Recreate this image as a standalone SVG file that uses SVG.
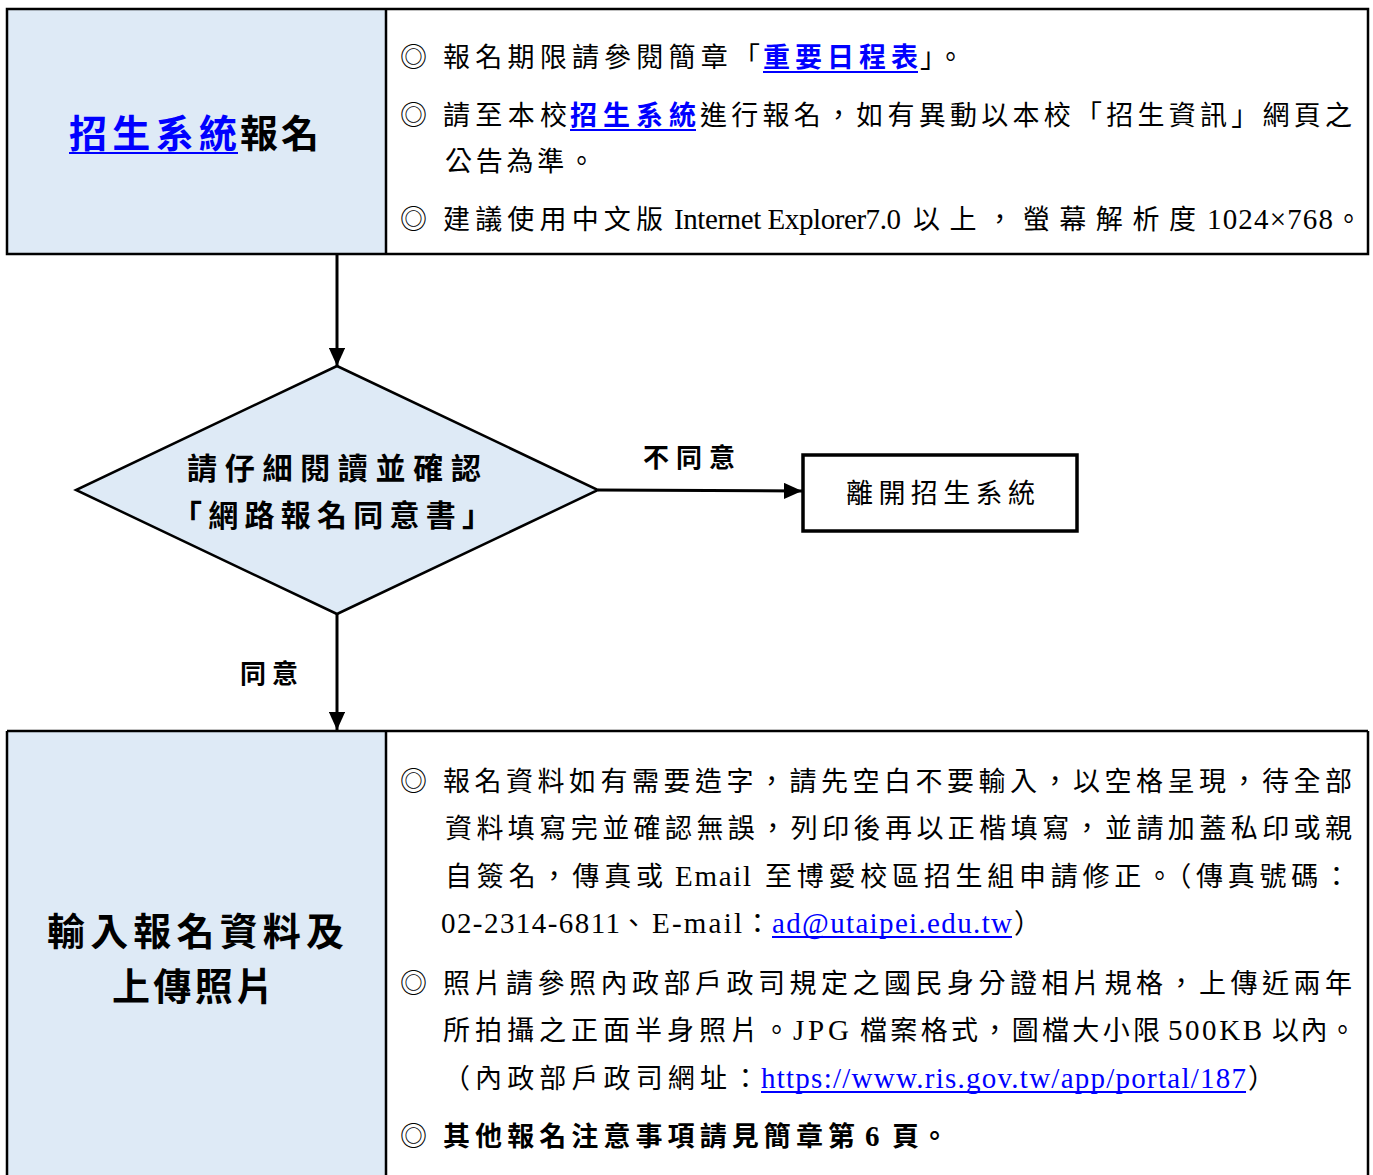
<svg xmlns="http://www.w3.org/2000/svg" width="1373" height="1175" viewBox="0 0 1373 1175">
<defs>
<style>
text{font-family:"Liberation Serif","Noto Sans CJK TC",serif;fill:#000}
.b{font-size:27px}
.bd{font-weight:bold}
.lk{fill:#0000ff}
.cell{fill:#deeaf6;stroke:none}
.ln{stroke:#000;stroke-width:2.5;fill:none}
.ul{stroke:#0000ff;stroke-width:2}
.lat{font-size:29px}
</style>
<marker id="ah" viewBox="0 0 10 9" refX="10" refY="4.5" markerWidth="6" markerHeight="5.4" orient="auto" markerUnits="strokeWidth">
<path d="M0,0 L10,4.5 L0,9 z" fill="#000"/>
</marker>
</defs>
<rect width="1373" height="1175" fill="#fff"/>

<g id="node-top">
<rect class="cell" x="7" y="9" width="379" height="245"/>
<rect class="ln" x="7" y="9" width="1361" height="245"/>
<line class="ln" x1="386" y1="9" x2="386" y2="254"/>
<text class="bd lk" x="69" y="147" font-size="38" textLength="168" lengthAdjust="spacing">招生系統</text>
<line class="ul" x1="69" y1="153" x2="238" y2="153"/>
<text class="bd" x="240" y="147" font-size="38" textLength="79" lengthAdjust="spacing">報名</text>

<text class="b" x="400" y="67">◎</text>
<text class="b" x="443" y="67" textLength="317" lengthAdjust="spacing">報名期限請參閱簡章「</text>
<text class="b bd lk" x="763" y="67" textLength="155" lengthAdjust="spacing">重要日程表</text>
<line class="ul" x1="763" y1="72" x2="918" y2="72"/>
<text class="b" x="920" y="67" textLength="44" lengthAdjust="spacing">」。</text>

<text class="b" x="400" y="125">◎</text>
<text class="b" x="443" y="125" textLength="124" lengthAdjust="spacing">請至本校</text>
<text class="b bd lk" x="570" y="125" textLength="126" lengthAdjust="spacing">招生系統</text>
<line class="ul" x1="570" y1="130" x2="696" y2="130"/>
<text class="b" x="700" y="125" textLength="652" lengthAdjust="spacing">進行報名，如有異動以本校「招生資訊」網頁之</text>
<text class="b" x="445" y="171" textLength="150" lengthAdjust="spacing">公告為準。</text>

<text class="b" x="400" y="229">◎</text>
<text class="b" x="443" y="229" textLength="220" lengthAdjust="spacing">建議使用中文版</text>
<text class="lat" x="674" y="229" textLength="227" lengthAdjust="spacing">Internet Explorer7.0</text>
<text class="b" x="913" y="229" textLength="283" lengthAdjust="spacing">以上，螢幕解析度</text>
<text class="lat" x="1207" y="229" textLength="126" lengthAdjust="spacing">1024×768</text>
<text class="b" x="1335" y="229">。</text>
</g>

<g id="node-decision">
<polygon points="337,366 598,490 337,614 76,490" fill="#deeaf6" stroke="#000" stroke-width="2.5"/>
<text class="bd" x="187" y="479" font-size="30" textLength="294" lengthAdjust="spacing">請仔細閱讀並確認</text>
<text class="bd" x="172" y="526" font-size="30" textLength="320" lengthAdjust="spacing">「網路報名同意書」</text>
</g>

<g id="node-exit">
<rect x="803" y="455" width="274" height="76" fill="#fff" stroke="#000" stroke-width="3.5"/>
<text x="846" y="503" font-size="27" textLength="189" lengthAdjust="spacing">離開招生系統</text>
</g>

<g id="node-bottom">
<rect class="cell" x="7" y="731" width="379" height="450"/>
<line class="ln" x1="7" y1="731" x2="1368" y2="731"/>
<line class="ln" x1="7" y1="731" x2="7" y2="1180"/>
<line class="ln" x1="386" y1="731" x2="386" y2="1180"/>
<line class="ln" x1="1368" y1="731" x2="1368" y2="1180"/>
<text class="bd" x="47" y="945" font-size="38" textLength="297" lengthAdjust="spacing">輸入報名資料及</text>
<text class="bd" x="112" y="1000" font-size="38" textLength="162" lengthAdjust="spacing">上傳照片</text>

<text class="b" x="400" y="791">◎</text>
<text class="b" x="443" y="791" textLength="909" lengthAdjust="spacing">報名資料如有需要造字，請先空白不要輸入，以空格呈現，待全部</text>
<text class="b" x="445" y="838" textLength="907" lengthAdjust="spacing">資料填寫完並確認無誤，列印後再以正楷填寫，並請加蓋私印或親</text>
<text class="b" x="445" y="886" textLength="218" lengthAdjust="spacing">自簽名，傳真或</text>
<text class="lat" x="675" y="886" textLength="76" lengthAdjust="spacing">Email</text>
<text class="b" x="765" y="886" textLength="585" lengthAdjust="spacing">至博愛校區招生組申請修正。（傳真號碼：</text>
<text class="lat" x="441" y="933" textLength="179" lengthAdjust="spacing">02-2314-6811</text>
<text class="b" x="620" y="933">、</text>
<text class="lat" x="652" y="933" textLength="90" lengthAdjust="spacing">E-mail</text>
<text class="b" x="744" y="933">：</text>
<text class="lat lk" x="772" y="933" textLength="240" lengthAdjust="spacing">ad@utaipei.edu.tw</text>
<line class="ul" x1="772" y1="937" x2="1012" y2="937"/>
<text class="b" x="1014" y="933">）</text>

<text class="b" x="400" y="993">◎</text>
<text class="b" x="443" y="993" textLength="909" lengthAdjust="spacing">照片請參照內政部戶政司規定之國民身分證相片規格，上傳近兩年</text>
<text class="b" x="443" y="1040" textLength="347" lengthAdjust="spacing">所拍攝之正面半身照片。</text>
<text class="lat" x="793" y="1040" textLength="56" lengthAdjust="spacing">JPG</text>
<text class="b" x="860" y="1040" textLength="300" lengthAdjust="spacing">檔案格式，圖檔大小限</text>
<text class="lat" x="1168" y="1040" textLength="94" lengthAdjust="spacing">500KB</text>
<text class="b" x="1272" y="1040" textLength="84" lengthAdjust="spacing">以內。</text>
<text class="b" x="443" y="1088" textLength="316" lengthAdjust="spacing">（內政部戶政司網址：</text>
<text class="lat lk" x="761" y="1088" textLength="485" lengthAdjust="spacing">https://www.ris.gov.tw/app/portal/187</text>
<line class="ul" x1="761" y1="1092" x2="1246" y2="1092"/>
<text class="b" x="1248" y="1088">）</text>

<text class="b" x="400" y="1146">◎</text>
<text class="b bd" x="443" y="1146" textLength="412" lengthAdjust="spacing">其他報名注意事項請見簡章第</text>
<text class="lat bd" x="865" y="1146">6</text>
<text class="b bd" x="892" y="1146" textLength="56" lengthAdjust="spacing">頁。</text>
</g>

<g id="connectors">
<line x1="337" y1="254" x2="337" y2="366" stroke="#000" stroke-width="3" marker-end="url(#ah)"/>
<line x1="598" y1="490" x2="802" y2="491" stroke="#000" stroke-width="3" marker-end="url(#ah)"/>
<line x1="337" y1="614" x2="337" y2="730" stroke="#000" stroke-width="3" marker-end="url(#ah)"/>
<text class="bd" x="643" y="467" font-size="26" textLength="92" lengthAdjust="spacing">不同意</text>
<text class="bd" x="240" y="683" font-size="26" textLength="58" lengthAdjust="spacing">同意</text>
</g>
</svg>
